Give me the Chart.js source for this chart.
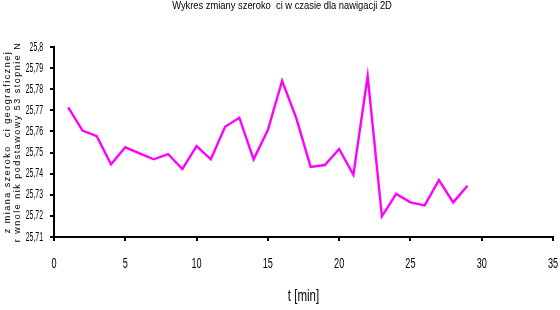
<!DOCTYPE html>
<html>
<head>
<meta charset="utf-8">
<script src="https://cdn.jsdelivr.net/npm/chart.js@4/dist/chart.umd.min.js"></script>
<style>
  html, body { margin: 0; padding: 0; background: #ffffff; }
  #wrap { width: 560px; height: 310px; }
</style>
</head>
<body>
<div id="wrap"><canvas id="c" width="560" height="310"></canvas></div>
<script>
const times = [1,2,3,4,5,6,7,8,9,10,11,12,13,14,15,16,17,18,19,20,21,22,23,24,25,26,27,28,29];
const latitude = [25.7714,25.7604,25.7578,25.7444,25.7525,25.7496,25.7468,25.7493,25.7422,25.7531,25.7468,25.7622,25.7665,25.7468,25.7607,25.7840,25.7662,25.7432,25.7441,25.7517,25.7395,25.7862,25.7198,25.7304,25.7264,25.7250,25.7370,25.7264,25.7343];
const xTickValues = [0,5,10,15,20,25,30,35];
const yTickValues = [25.71,25.72,25.73,25.74,25.75,25.76,25.77,25.78,25.79,25.8];
const chartTitle = 'Wykres zmiany szeroko  ci w czasie dla nawigacji 2D';
const xTitle = 't [min]';
const yTitleLines = ['z miana szeroko  ci geograficznej', 'r wnole nik podstawowy 53 stopnie N'];

const FAMILY = '"Liberation Sans", Arial, sans-serif';
const fmt = v => Number(v.toFixed(2)).toString().replace('.', ',');

function drawCondensed(ctx, text, x, y, size, sx, align) {
  ctx.save();
  ctx.font = size + 'px ' + FAMILY;
  ctx.fillStyle = '#000';
  ctx.textBaseline = 'middle';
  ctx.textAlign = align;
  ctx.translate(x, y);
  ctx.scale(sx, 1);
  ctx.fillText(text, 0, 0);
  ctx.restore();
}

const textPlugin = {
  id: 'texts',
  afterDraw(chart) {
    const ctx = chart.ctx;
    const area = chart.chartArea;
    const xs = chart.scales.x, ys = chart.scales.y;
    drawCondensed(ctx, chartTitle, chart.width / 2 + 2, 6, 11, 0.85, 'center');
    yTickValues.forEach(v => {
      drawCondensed(ctx, fmt(v), area.left - 11, ys.getPixelForValue(v), 13, 0.53, 'right');
    });
    xTickValues.forEach(v => {
      drawCondensed(ctx, String(v), xs.getPixelForValue(v), area.bottom + 27, 14, 0.65, 'center');
    });
    drawCondensed(ctx, xTitle, (area.left + area.right) / 2, 297, 16, 0.72, 'center');
    const cy = (area.top + area.bottom) / 2;
    ctx.save();
    ctx.fillStyle = '#000';
    ctx.font = '9px ' + FAMILY;
    ctx.letterSpacing = '1.5px';
    ctx.textAlign = 'center';
    ctx.textBaseline = 'middle';
    const lx = [8, 18];
    yTitleLines.forEach((t, i) => {
      ctx.save();
      ctx.translate(lx[i], cy);
      ctx.rotate(-Math.PI / 2);
      ctx.fillText(t, 0, 0);
      ctx.restore();
    });
    ctx.restore();
  }
};

new Chart(document.getElementById('c'), {
  type: 'line',
  data: {
    datasets: [{
      data: times.map((t, i) => ({ x: t, y: latitude[i] })),
      borderColor: '#ff00ff',
      borderWidth: 2.4,
      pointRadius: 0,
      tension: 0,
      fill: false
    }]
  },
  options: {
    responsive: false,
    animation: false,
    layout: { padding: { left: 0, right: 7, top: 47, bottom: 0 } },
    plugins: {
      legend: { display: false },
      tooltip: { enabled: false },
      title: { display: false }
    },
    scales: {
      x: {
        type: 'linear',
        min: 0, max: 35,
        afterBuildTicks: s => { s.ticks = xTickValues.map(v => ({ value: v })); },
        afterFit: s => { s.height = 73; s.paddingLeft = 0; s.paddingRight = 0; },
        grid: { drawOnChartArea: false, drawTicks: true, tickLength: 4, color: '#000', lineWidth: 2 },
        border: { display: true, color: '#000', width: 2 },
        ticks: { display: false },
        title: { display: false }
      },
      y: {
        type: 'linear',
        min: 25.71, max: 25.8,
        afterBuildTicks: s => { s.ticks = yTickValues.map(v => ({ value: v })); },
        afterFit: s => { s.width = 54; s.paddingTop = 0; s.paddingBottom = 0; },
        grid: { drawOnChartArea: false, drawTicks: true, tickLength: 4, color: '#000', lineWidth: 2 },
        border: { display: true, color: '#000', width: 2 },
        ticks: { display: false }
      }
    }
  },
  plugins: [textPlugin]
});
</script>
</body>
</html>
